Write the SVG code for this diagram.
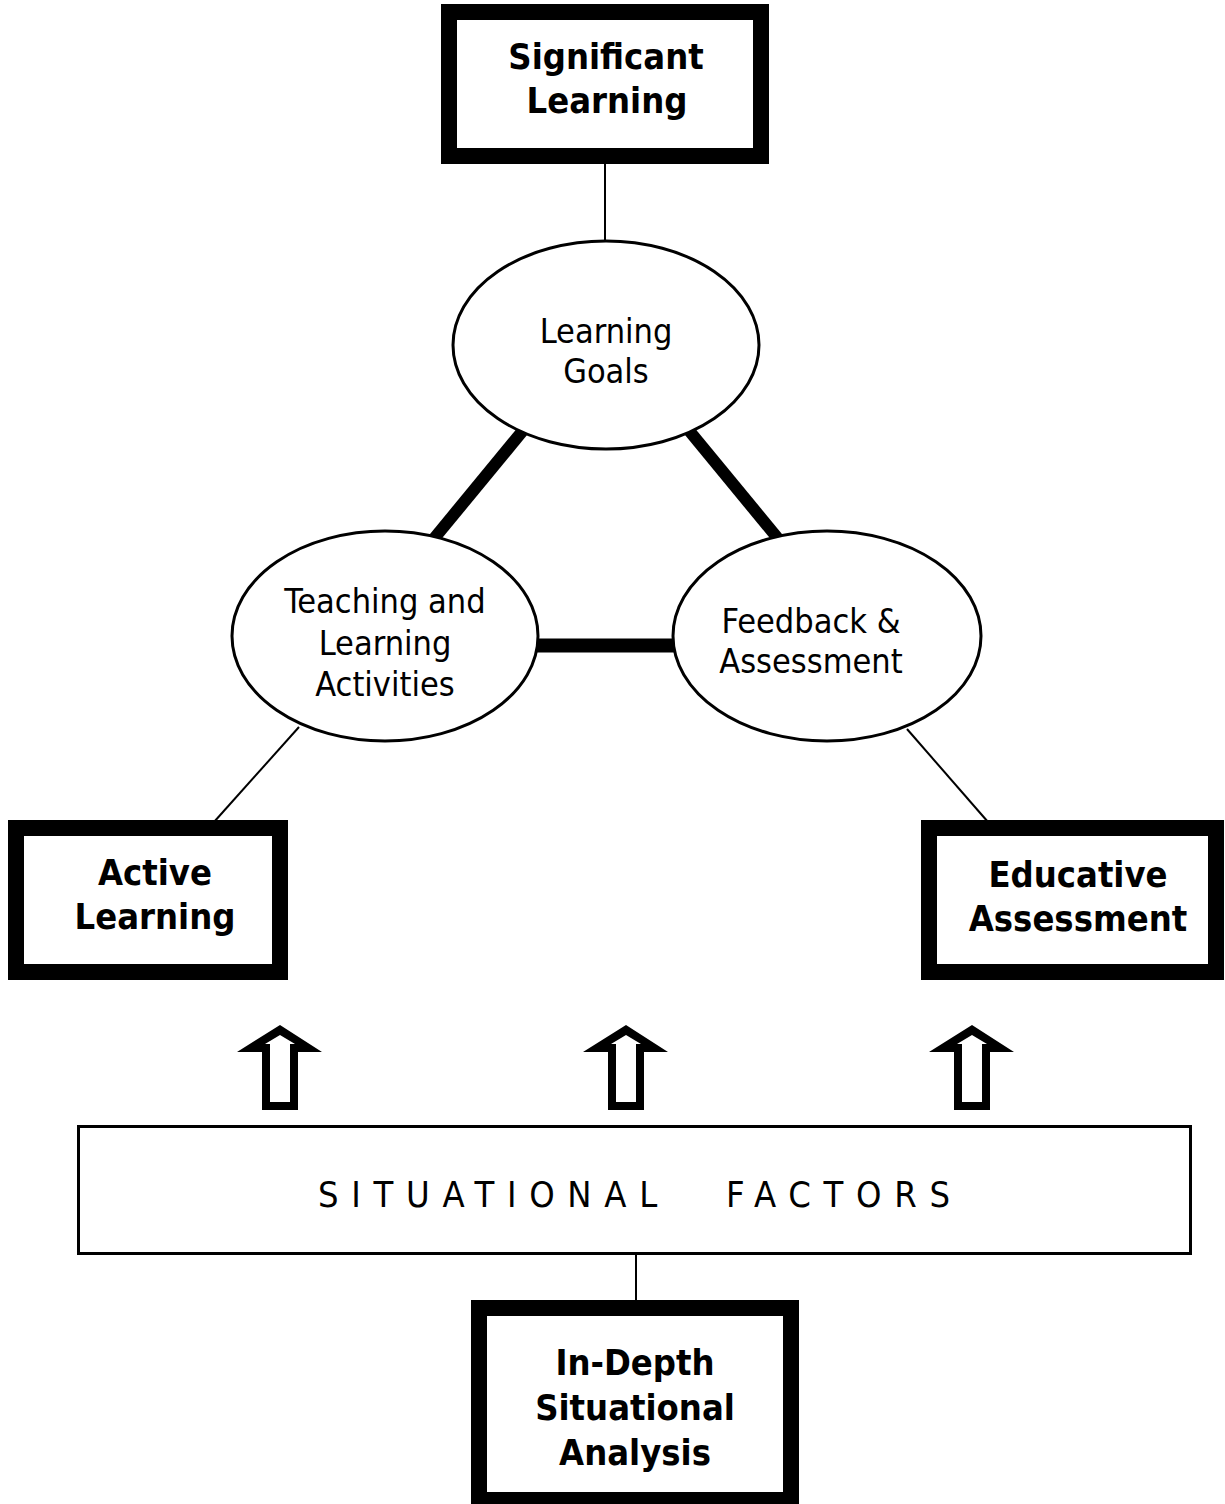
<svg xmlns="http://www.w3.org/2000/svg" width="1225" height="1504" viewBox="0 0 1225 1504">
  <style>
    .box { fill: #fff; stroke: #000; stroke-width: 16; }
    .ell { fill: #fff; stroke: #000; stroke-width: 3; }
    .thin { stroke: #000; stroke-width: 2; fill: none; }
    .thick { stroke: #000; stroke-width: 12; fill: none; }
    .bold { font-family: "DejaVu Sans Condensed", "DejaVu Sans", sans-serif; font-stretch: condensed; font-weight: bold; font-size: 36px; text-anchor: middle; fill: #000; }
    .reg { font-family: "DejaVu Sans Condensed", "DejaVu Sans", sans-serif; font-stretch: condensed; font-size: 34px; text-anchor: middle; fill: #000; }
    .sf { font-family: "DejaVu Sans Condensed", "DejaVu Sans", sans-serif; font-stretch: condensed; font-size: 36px; letter-spacing: 12.7px; fill: #000; }
  </style>
  <defs>
    <g id="uparrow">
      <polygon points="0,0 42,27 18,27 18,85 -18,85 -18,27 -43,27" fill="#000"/>
      <polygon points="0,10 15,19 10,19 10,77 -10,77 -10,19 -15,19" fill="#fff"/>
    </g>
  </defs>
  <rect width="1225" height="1504" fill="#fff"/>

  <g id="connectors">
    <line class="thin" x1="605" y1="164" x2="605" y2="242"/>
    <line class="thin" x1="299" y1="727" x2="214" y2="822"/>
    <line class="thin" x1="907" y1="729" x2="988" y2="822"/>
    <line class="thin" x1="636" y1="1255" x2="636" y2="1302"/>
    <line class="thick" x1="530" y1="422" x2="432" y2="541"/>
    <line class="thick" x1="682" y1="422" x2="780" y2="541"/>
    <line class="thick" x1="530" y1="645.5" x2="680" y2="645.5" style="stroke-width:14"/>
    <use href="#uparrow" transform="translate(280,1025)"/>
    <use href="#uparrow" transform="translate(626,1025)"/>
    <use href="#uparrow" transform="translate(972,1025)"/>
  </g>

  <g id="significant-learning">
    <rect class="box" x="449" y="12" width="312" height="144"/>
    <text class="bold" x="606" y="69">Significant</text>
    <text class="bold" x="607" y="113">Learning</text>
  </g>

  <g id="learning-goals">
    <ellipse class="ell" cx="606" cy="345" rx="153" ry="104"/>
    <text class="reg" x="606" y="343">Learning</text>
    <text class="reg" x="606" y="383">Goals</text>
  </g>

  <g id="teaching-activities">
    <ellipse class="ell" cx="385" cy="636" rx="153" ry="105"/>
    <text class="reg" x="385" y="613">Teaching and</text>
    <text class="reg" x="385" y="655">Learning</text>
    <text class="reg" x="385" y="696">Activities</text>
  </g>

  <g id="feedback-assessment">
    <ellipse class="ell" cx="827" cy="636" rx="154" ry="105"/>
    <text class="reg" x="811" y="633">Feedback &amp;</text>
    <text class="reg" x="811" y="673">Assessment</text>
  </g>

  <g id="active-learning">
    <rect class="box" x="16" y="828" width="264" height="144"/>
    <text class="bold" x="155" y="885">Active</text>
    <text class="bold" x="155" y="929">Learning</text>
  </g>

  <g id="educative-assessment">
    <rect class="box" x="929" y="828" width="287" height="144"/>
    <text class="bold" x="1078" y="887">Educative</text>
    <text class="bold" x="1078" y="931">Assessment</text>
  </g>

  <g id="situational-factors">
    <rect x="78.5" y="1126.5" width="1112" height="127" fill="#fff" stroke="#000" stroke-width="3"/>
    <text class="sf" x="318" y="1207">SITUATIONAL</text>
    <text class="sf" x="726" y="1207">FACTORS</text>
  </g>

  <g id="in-depth-analysis">
    <rect class="box" x="479" y="1308" width="312" height="192"/>
    <text class="bold" x="635" y="1375">In-Depth</text>
    <text class="bold" x="635" y="1420">Situational</text>
    <text class="bold" x="635" y="1465">Analysis</text>
  </g>
</svg>
